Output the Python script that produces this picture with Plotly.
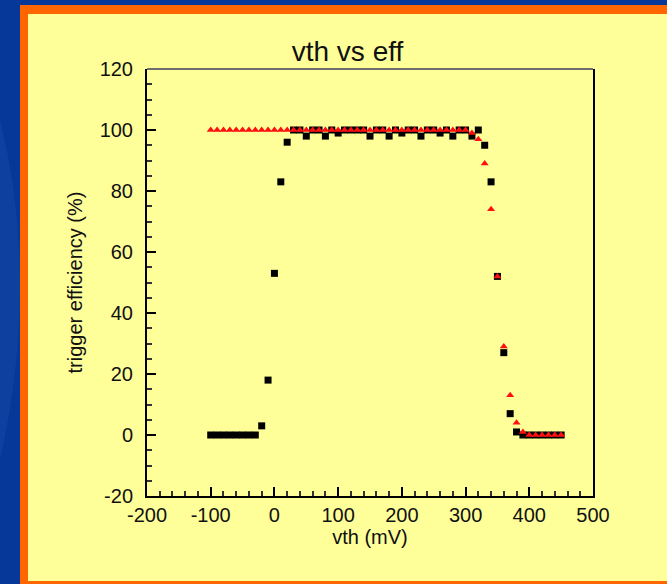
import plotly.graph_objects as go

# ---- data ----
vth = list(range(-100, 451, 10))  # mV

eff_black = [0, 0, 0, 0, 0, 0, 0, 0,          # -100 .. -30
             3, 18, 53, 83, 96,               # -20 .. 20
             100, 100, 98, 100, 100, 98, 100, 99,   # 30 .. 100
             100, 100, 100, 100, 98, 100, 100, 98,  # 110 .. 180
             100, 99, 100, 100, 98, 100, 100, 99,   # 190 .. 260
             100, 98, 100, 100, 98, 100, 95,        # 270 .. 330
             83, 52, 27, 7, 1,                      # 340 .. 380
             0, 0, 0, 0, 0, 0, 0]                   # 390 .. 450

eff_red = [100] * 41 + [99, 97, 89, 74, 52, 29, 13, 4, 1] + [0] * 6

x_ticks = [-200, -100, 0, 100, 200, 300, 400, 500]
y_ticks = [-20, 0, 20, 40, 60, 80, 100, 120]

# ---- layout geometry (pixels) ----
W, H = 667, 584
PX0, PX1, PY0, PY1 = 147, 593, 69, 496   # plot area: left, right, top, bottom


def px(x):
    return (x - PX0) / (PX1 - PX0)


def py(y):
    return (PY1 - y) / (PY1 - PY0)


FONT = "Liberation Sans, Arial, Helvetica, sans-serif"

fig = go.Figure()
fig.add_trace(go.Scatter(
    x=vth, y=eff_black, mode="markers", name="black",
    marker=dict(symbol="square", size=7, color="#000000", line=dict(width=0)),
))
fig.add_trace(go.Scatter(
    x=vth, y=eff_red, mode="markers", name="red",
    marker=dict(symbol="triangle-up", size=7, color="#FF1010", line=dict(width=0)),
))

shapes = [
    # lighter blue swirl on the left strip
    dict(type="path", xref="paper", yref="paper", layer="below",
         path=f"M {px(0)},{py(120)} Q {px(40)},{py(280)} {px(0)},{py(460)} Z",
         fillcolor="#0E419F", line=dict(width=0)),
    # orange frame
    dict(type="rect", xref="paper", yref="paper", layer="below",
         x0=px(20), x1=px(720), y0=py(620), y1=py(5),
         fillcolor="#FF6600", line=dict(width=0)),
    # yellow panel
    dict(type="rect", xref="paper", yref="paper", layer="below",
         x0=px(28), x1=px(720), y0=py(581), y1=py(14),
         fillcolor="#FFFF99", line=dict(width=0)),
    # grey top frame line of the plot box
    dict(type="line", xref="paper", yref="paper",
         x0=0, x1=1, y0=1, y1=1, line=dict(color="#6E6E6E", width=2)),
]

fig.update_layout(
    width=W, height=H, autosize=False,
    margin=dict(l=PX0, r=W - PX1, t=PY0, b=H - PY1, pad=0),
    paper_bgcolor="#06389A",
    plot_bgcolor="rgba(0,0,0,0)",
    showlegend=False,
    font=dict(family=FONT, color="#111111", size=20),
    title=dict(text="vth vs eff", xref="container", yref="container",
               x=347.5 / W, y=1 - 51 / H, xanchor="center", yanchor="middle",
               font=dict(family=FONT, size=28, color="#111111")),
    shapes=shapes,
)

fig.update_xaxes(
    range=[-200, 500], tickvals=x_ticks, ticktext=[str(v) for v in x_ticks],
    ticks="inside", ticklen=9, tickwidth=2, tickcolor="#000000",
    minor=dict(dtick=20, ticks="inside", ticklen=5, tickwidth=2, tickcolor="#333333"),
    showline=True, linecolor="#000000", linewidth=2, mirror=False,
    showgrid=False, zeroline=False,
    tickfont=dict(family=FONT, size=20, color="#111111"),
    title=dict(text="vth (mV)", standoff=4, font=dict(family=FONT, size=20, color="#111111")),
)
fig.update_yaxes(
    range=[-20, 120], tickvals=y_ticks, ticktext=[str(v) for v in y_ticks],
    ticks="inside", ticklen=9, tickwidth=2, tickcolor="#000000",
    minor=dict(dtick=5, ticks="inside", ticklen=5, tickwidth=2, tickcolor="#333333"),
    showline=True, linecolor="#000000", linewidth=2, mirror=True,
    showgrid=False, zeroline=False,
    tickfont=dict(family=FONT, size=20, color="#111111"),
    ticklabelstandoff=8,
    title=dict(text="trigger efficiency (%)", standoff=12,
               font=dict(family=FONT, size=20, color="#111111")),
)

fig.write_html("out.html")
